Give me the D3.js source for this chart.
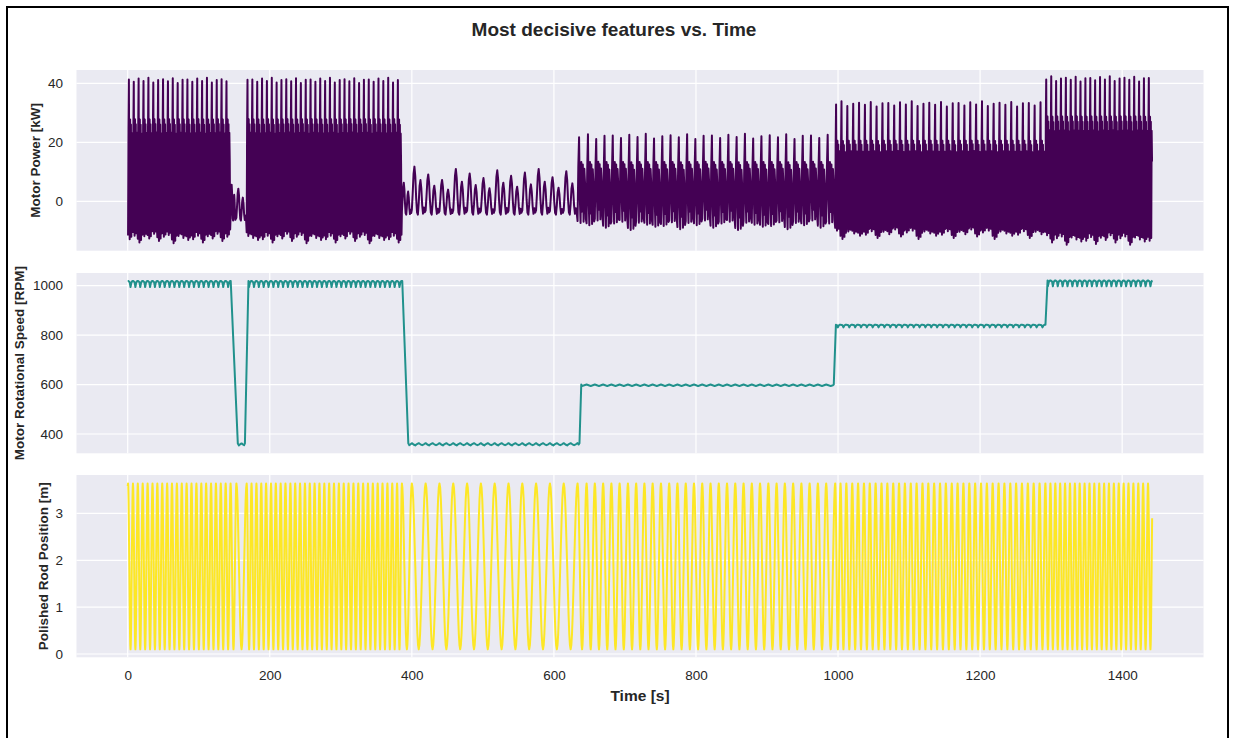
<!DOCTYPE html>
<html>
<head>
<meta charset="utf-8">
<script src="https://cdn.jsdelivr.net/npm/d3@7"></script>
<style>
  body { margin: 0; background: #ffffff; }
  #frame { position: absolute; left: 6px; top: 6px; width: 1223px; height: 760px; border: 2px solid #000; box-sizing: border-box; }
  #chart { position: absolute; left: 0; top: 0; }
  .tick text { font-family: "Liberation Sans", Arial, sans-serif; font-size: 13.5px; fill: #262626; }
  .axis-label { font-family: "Liberation Sans", Arial, sans-serif; font-weight: bold; fill: #262626; }
</style>
</head>
<body>
<div id="frame"></div>
<svg id="chart" width="1235" height="738"></svg>
<script>
const rodPeakTimes = [
  0.5, 7.4, 14.2, 21.1, 28.0, 34.9, 41.7, 48.6, 55.5, 62.3, 69.2, 76.1, 82.9, 89.8, 96.7, 103.6,
  110.4, 117.3, 124.2, 131.0, 137.9, 144.8,
  153.0,
  167.5, 174.3, 181.2, 188.0, 194.8, 201.7, 208.5, 215.3, 222.1, 229.0, 235.8, 242.6, 249.5, 256.3,
  263.1, 269.9, 276.8, 283.6, 290.4, 297.3, 304.1, 310.9, 317.8, 324.6, 331.4, 338.2, 345.1, 351.9,
  358.7, 365.6, 372.4, 379.2, 386.0,
  400.0, 419.4, 438.9, 458.3, 477.8, 497.2, 516.6, 536.1, 555.5, 574.9, 594.4, 613.8, 633.3,
  646.0, 657.6, 669.3, 680.9, 692.5, 704.2, 715.8, 727.4, 739.0, 750.7, 762.3, 773.9, 785.6, 797.2,
  808.8, 820.5, 832.1, 843.7, 855.3, 867.0, 878.6, 890.2, 901.9, 913.5, 925.1, 936.8, 948.4, 960.0,
  971.6, 983.3,
  996.0,
  1003.5, 1011.7, 1020.0, 1028.2, 1036.5, 1044.7, 1052.9, 1061.2, 1069.4, 1077.7, 1085.9, 1094.1,
  1102.4, 1110.6, 1118.9, 1127.1, 1135.3, 1143.6, 1151.8, 1160.1, 1168.3, 1176.5, 1184.8, 1193.0,
  1201.3, 1209.5, 1217.7, 1226.0, 1234.2, 1242.5, 1250.7, 1258.9, 1267.2, 1275.4, 1283.7, 1291.9,
  1299.0, 1305.9, 1312.7, 1319.6, 1326.5, 1333.4, 1340.2, 1347.1, 1354.0, 1360.8, 1367.7, 1374.6,
  1381.4, 1388.3, 1395.2, 1402.1, 1408.9, 1415.8, 1422.7, 1429.5, 1436.4, 1443.2
];
const END_TIME = 1442.4;
const ROD_START = [0, 3.58];
const ROD_RANGE = [0.10, 3.64];
// half stroke, top to bottom, as a fraction of the stroke length
const rodHalfShape = [1.0, 0.975, 0.905, 0.79, 0.645, 0.5, 0.355, 0.21, 0.095, 0.025, 0.0];

// operating regimes (start time of the stroke) and power levels [kW]
const regimeStart = [0, 144.8, 167.5, 386, 633.3, 996, 1291.9];
const regimeShape = ['pump', 'slow', 'pump', 'slow', 'pump', 'pump', 'pump'];
const powerLow  = [-12, -6.5, -12, -4.5, -7.5, -10.5, -12.5];
const powerHigh = [29, 7, 29, 11, 14, 21.5, 30];
const powerPeak = [41, 7, 41, 11, 22, 33, 41.5];
// one stroke of power, 0 = trough level, 1 = upper band, >=1.2 = stroke peak
const pumpPowerShape = [0.03, 0.9, 1.3, 0.4, 0.0, 0.97, 0.18, 0.93, 0.02, 0.86, 0.62, 0.06];
const slowPowerShape = [0.1, 0.45, 0.85, 1.0, 0.8, 0.35, 0.05, 0.0, 0.25, 0.6, 0.72, 0.55, 0.2, 0.02, 0.15, 0.05];
const powerLowJitter = [-0.8, 0.4, -1.9, 0.2, -0.6, 1.0, -1.4, 0.0, 0.6, -2.2, 0.3, -0.4, -1.1];
const powerPeakJitter = [0.3, -0.5, 0.6, -0.2, 0.9, -0.7, 0.1, 0.4, -0.3, 0.7, -0.9, 0.2];
// slow strokes: height of the two humps differs from stroke to stroke
const slowHumpScale = [1.0, 0.82, 0.95, 0.7, 1.05, 0.88, 0.76, 1.0, 0.9, 0.8, 0.97, 0.85, 0.92];

// motor speed plateaus [RPM]
const speedSegStart = [0, 155, 170, 395, 638.5, 997, 1295];
const speedSegEnd   = [145, 165, 386.5, 636, 994, 1292, 1442.4];
const speedTop      = [1019, 362, 1019, 363, 600, 842, 1021];
const speedDip      = [25, 8, 25, 9, 6, 11, 24];
const speedShape    = ['spike', 'double', 'spike', 'double', 'smooth', 'spike', 'spike'];
const speedRipple = {
  spike: [0, -0.08, -0.2, -1.0, -0.3, -0.05],
  smooth: [0, -0.5, -1, -0.5],
  double: [0, -0.6, -1, -0.4, 0, -0.5, -0.9, -0.5]
};

const xTicks = [0, 200, 400, 600, 800, 1000, 1200, 1400];
const panels = [
  { label: 'Motor Power [kW]', ticks: [0, 20, 40], domain: [-16.7, 44.5], top: 70, bottom: 250.7, color: '#440154', labelX: 40 },
  { label: 'Motor Rotational Speed [RPM]', ticks: [400, 600, 800, 1000], domain: [322, 1051], top: 273, bottom: 453.3, color: '#21918c', labelX: 24 },
  { label: 'Polished Rod Position [m]', ticks: [0, 1, 2, 3], domain: [-0.07, 3.82], top: 475, bottom: 657.3, color: '#fde725', labelX: 48 }
];

function regimeAt(t) {
  let r = 0;
  regimeStart.forEach((s, i) => { if (t >= s - 1e-6) r = i; });
  return r;
}

// build the three traces stroke by stroke
const powerPts = [];
const speedPts = [];
const rodPts = [ROD_START];
for (let i = 0; i < rodPeakTimes.length - 1; i++) {
  const t0 = rodPeakTimes[i];
  const D = rodPeakTimes[i + 1] - t0;
  const r = regimeAt(t0);
  const pump = regimeShape[r] === 'pump';
  const shape = pump ? pumpPowerShape : slowPowerShape;
  const low = powerLow[r] + (pump ? powerLowJitter[i % powerLowJitter.length] : 0);
  const peak = powerPeak[r] + powerPeakJitter[i % powerPeakJitter.length];
  const hump = pump ? 1 : slowHumpScale[i % slowHumpScale.length];
  shape.forEach((v, j) => {
    const t = t0 + D * j / shape.length;
    if (t <= END_TIME) powerPts.push([t, v >= 1.2 ? peak : low + v * hump * (powerHigh[r] - low)]);
  });
  const half = rodHalfShape.length - 1;
  rodHalfShape.forEach((v, j) => {
    const t = t0 + (D / 2) * j / half;
    if (t <= END_TIME) rodPts.push([t, ROD_RANGE[0] + v * (ROD_RANGE[1] - ROD_RANGE[0])]);
  });
  rodHalfShape.forEach((v, j) => {
    if (j === 0) return;
    const t = t0 + D / 2 + (D / 2) * j / half;
    const s = rodHalfShape[half - j];
    if (t <= END_TIME) rodPts.push([t, ROD_RANGE[0] + s * (ROD_RANGE[1] - ROD_RANGE[0])]);
  });
}
speedSegStart.forEach((s0, k) => {
  const s1 = speedSegEnd[k];
  const rip = speedRipple[speedShape[k]];
  speedPts.push([s0, speedTop[k]]);
  for (let i = 0; i < rodPeakTimes.length - 1; i++) {
    const t0 = rodPeakTimes[i];
    const D = rodPeakTimes[i + 1] - t0;
    rip.forEach((v, j) => {
      const t = t0 + D * j / rip.length;
      if (t > s0 && t < s1) speedPts.push([t, speedTop[k] + v * speedDip[k]]);
    });
  }
  speedPts.push([s1, speedTop[k]]);
});
const traces = [powerPts, speedPts, rodPts];

const svg = d3.select('#chart');
const left = 76.5, right = 1203.5;
const x = d3.scaleLinear().domain([-72.1, 1514.5]).range([left, right]);

svg.append('text')
  .attr('x', 614).attr('y', 36)
  .attr('text-anchor', 'middle')
  .attr('font-family', '"Liberation Sans", Arial, sans-serif')
  .attr('font-size', 19).attr('font-weight', 'bold').attr('fill', '#262626')
  .text('Most decisive features vs. Time');

panels.forEach((p, k) => {
  const y = d3.scaleLinear().domain(p.domain).range([p.bottom, p.top]);
  const g = svg.append('g');
  g.append('rect')
    .attr('x', left).attr('y', p.top)
    .attr('width', right - left).attr('height', p.bottom - p.top)
    .attr('fill', '#eaeaf2');
  g.selectAll('line.vgrid').data(xTicks).join('line')
    .attr('x1', d => x(d)).attr('x2', d => x(d))
    .attr('y1', p.top).attr('y2', p.bottom)
    .attr('stroke', '#fff').attr('stroke-width', 1.2);
  g.selectAll('line.hgrid').data(p.ticks).join('line')
    .attr('x1', left).attr('x2', right)
    .attr('y1', d => y(d)).attr('y2', d => y(d))
    .attr('stroke', '#fff').attr('stroke-width', 1.2);

  const clipId = 'clip' + k;
  svg.append('clipPath').attr('id', clipId).append('rect')
    .attr('x', left).attr('y', p.top)
    .attr('width', right - left).attr('height', p.bottom - p.top);

  const line = d3.line().x(d => x(d[0])).y(d => y(d[1]));
  g.append('path')
    .datum(traces[k])
    .attr('clip-path', `url(#${clipId})`)
    .attr('d', line)
    .attr('fill', 'none')
    .attr('stroke', p.color)
    .attr('stroke-width', 2)
    .attr('stroke-linejoin', 'round');

  const ya = g.append('g')
    .attr('transform', `translate(${left},0)`)
    .call(d3.axisLeft(y).tickValues(p.ticks).tickFormat(d3.format('d')).tickSize(0).tickPadding(13.5));
  ya.select('.domain').remove();

  g.append('text')
    .attr('class', 'axis-label')
    .attr('transform', `translate(${p.labelX},${(p.top + p.bottom) / 2}) rotate(-90)`)
    .attr('text-anchor', 'middle')
    .attr('font-size', 13.5)
    .text(p.label);

  if (k === panels.length - 1) {
    const xa = g.append('g')
      .attr('transform', `translate(0,${p.bottom})`)
      .call(d3.axisBottom(x).tickValues(xTicks).tickFormat(d3.format('d')).tickSize(0).tickPadding(13));
    xa.select('.domain').remove();
    g.append('text')
      .attr('class', 'axis-label')
      .attr('x', (left + right) / 2).attr('y', 701)
      .attr('text-anchor', 'middle')
      .attr('font-size', 15.5)
      .text('Time [s]');
  }
});
</script>
</body>
</html>
